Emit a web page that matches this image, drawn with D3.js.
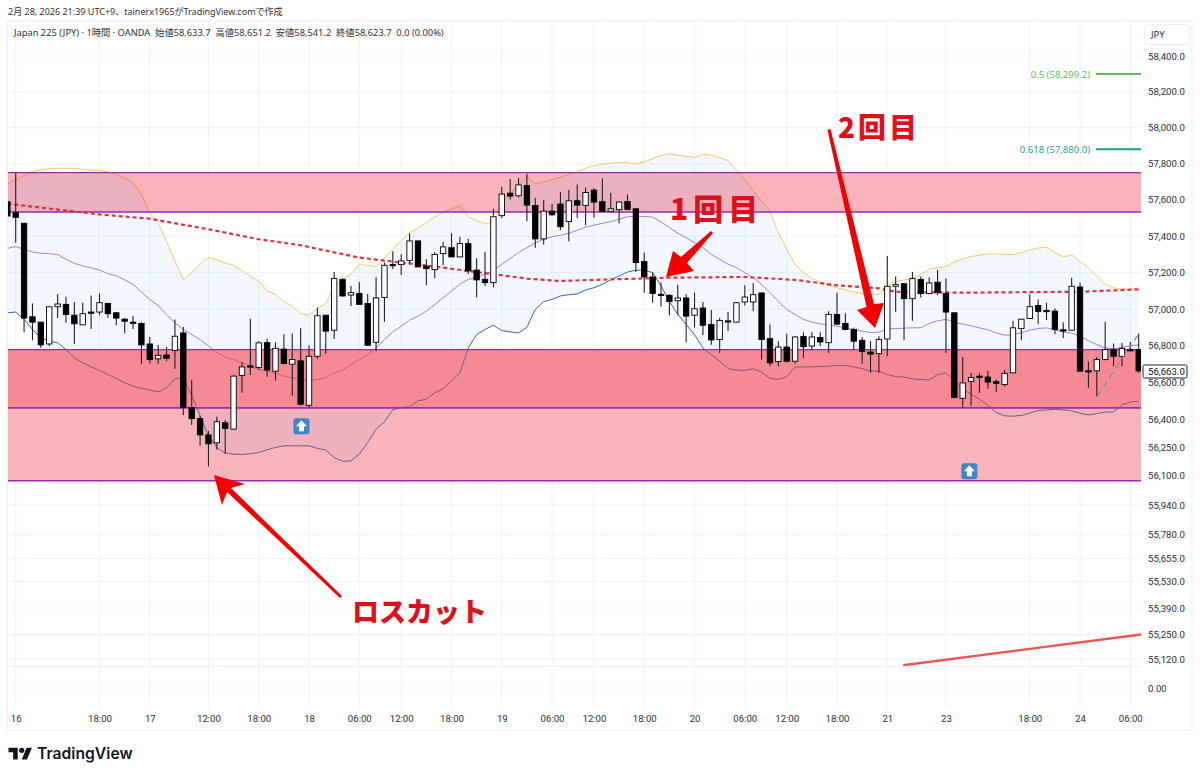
<!DOCTYPE html>
<html><head><meta charset="utf-8">
<script src="https://cdn.jsdelivr.net/npm/d3@7"></script>
<style>html,body{margin:0;padding:0;background:#fff}svg{display:block}text{font-family:"Noto Sans","Noto Sans CJK JP",sans-serif}</style>
</head><body><div id="chart"></div>
<script>
// Values. First element of every candle/band array is the bar before "16" (index -1).
const opens=[57590,57529,57471,56958,56929,56810,57013,57026,56967,56914,56984,56984,57031,56980,56945,56929,56922,56810,56729,56750,56775,56870,56465,56405,56317,56274,56382,56348,56639,56691,56682,56817,56662,56782,56700,56718,56477,56743,56967,56885,57163,57077,57086,57031,56819,57064,57244,57244,57267,57374,57236,57216,57304,57337,57286,57359,57214,57163,57145,57513,57637,57623,57679,57569,57385,57538,57577,57480,57595,57569,57654,57590,57537,57546,57591,57551,57260,57176,57081,57075,57046,57061,56967,57006,56916,56834,56936,56929,57039,57039,57088,56839,56714,56793,56716,56850,56799,56845,56817,56971,56922,56889,56830,56766,56757,56837,57125,57139,57057,57163,57085,57147,57086,56980,56515,56607,56635,56630,56605,56590,56653,56894,56949,57020,56993,56989,56887,56885,57121,56664,56664,56725,56779,56743,56779,56779];
const highs=[57590,57749,57471,57031,56929,57013,57083,57068,57039,57035,57075,57086,57035,56984,56951,56962,56929,56848,56805,56793,56944,56902,56614,56420,56339,56416,56398,56640,56712,56947,56825,56839,56819,56863,56867,56896,56801,57008,56967,57203,57170,57127,57149,57083,57174,57255,57317,57300,57416,57374,57273,57313,57368,57416,57397,57386,57279,57313,57551,57672,57716,57721,57745,57611,57599,57577,57643,57654,57685,57668,57666,57720,57639,57591,57630,57551,57310,57200,57145,57083,57134,57081,57090,57039,56995,56953,56984,57039,57130,57141,57094,56916,56825,56865,56852,56874,56874,56874,56989,57090,56977,56898,56848,56825,56852,57291,57178,57139,57203,57178,57174,57214,57167,56980,56739,56653,56653,56664,56617,56668,56936,56945,57081,57053,57035,57004,56929,57172,57145,56714,56739,56931,56812,56816,56821,56867];
const lows=[57511,57364,56874,56830,56788,56797,56951,56925,56810,56914,56892,56966,56953,56912,56869,56892,56700,56703,56703,56716,56675,56425,56370,56258,56147,56237,56215,56348,56545,56641,56668,56632,56610,56703,56528,56477,56465,56729,56757,56837,57068,57017,57026,56801,56770,56931,57218,57187,57251,57231,57132,57170,57240,57286,57286,57192,57064,57127,57119,57500,57602,57613,57482,57337,57354,57511,57434,57372,57500,57460,57502,57535,57537,57471,57544,57203,57090,57035,57013,56966,56966,56819,56900,56859,56806,56761,56880,56925,57020,56988,56725,56689,56689,56711,56703,56734,56779,56797,56761,56916,56885,56779,56703,56653,56653,56743,56986,56830,56936,57064,57081,57077,56761,56519,56463,56474,56545,56567,56549,56578,56653,56830,56947,56918,56940,56863,56843,56885,56662,56572,56524,56721,56689,56689,56773,56653];
const closes=[57511,57504,56951,56929,56805,57013,57028,56971,56920,56975,56978,57035,56975,56951,56934,56923,56805,56725,56748,56732,56852,56465,56405,56317,56269,56388,56352,56635,56685,56684,56816,56668,56786,56703,56725,56483,56743,56964,56880,57167,57072,57090,57026,56803,57061,57240,57238,57264,57374,57231,57222,57299,57341,57286,57359,57209,57160,57145,57507,57632,57621,57683,57571,57385,57538,57518,57452,57595,57571,57641,57588,57537,57551,57588,57548,57255,57176,57086,57074,57042,57061,56962,57002,56912,56832,56938,56933,57035,57066,57079,56834,56707,56793,56716,56848,56795,56848,56821,56971,56918,56889,56825,56770,56755,56834,57125,57134,57057,57167,57085,57143,57090,56984,56519,56598,56628,56632,56603,56596,56650,56898,56945,57013,56988,56986,56889,56883,57125,56662,56660,56725,56779,56743,56786,56775,56663];
const upperBand=[57688,57712,57735,57755,57767,57772,57774,57775,57774,57770,57766,57762,57755,57740,57720,57694,57630,57529,57474,57370,57265,57160,57200,57245,57284,57270,57252,57240,57212,57180,57154,57100,57081,57040,57017,56975,56967,57005,57030,57127,57160,57191,57244,57240,57233,57280,57328,57375,57419,57445,57475,57505,57533,57550,57566,57507,57485,57471,57474,57584,57635,57685,57730,57688,57700,57712,57725,57740,57755,57776,57790,57797,57803,57808,57806,57800,57810,57828,57846,57854,57848,57840,57835,57852,57848,57832,57818,57767,57711,57648,57593,57538,57420,57330,57246,57200,57167,57150,57130,57117,57105,57094,57085,57081,57081,57130,57150,57160,57167,57190,57218,57228,57233,57258,57275,57288,57296,57302,57302,57300,57299,57310,57324,57335,57341,57310,57286,57297,57260,57227,57180,57136,57116,57110,57108,57117];
const middleBand=[57333,57343,57328,57313,57306,57304,57299,57273,57251,57236,57225,57214,57194,57183,57160,57136,57094,57053,57020,56971,56925,56889,56861,56834,56800,56764,56738,56725,56707,56689,56671,56662,56650,56635,56626,56617,56612,56617,56626,56653,56666,56698,56725,56752,56788,56834,56876,56907,56940,56962,56989,57026,57063,57099,57136,57163,57172,57191,57209,57246,57277,57310,57337,57364,57383,57397,57405,57416,57432,57450,57460,57471,57480,57493,57507,57509,57509,57505,57478,57447,57416,57392,57364,57337,57300,57273,57246,57227,57200,57172,57136,57090,57044,56998,56971,56944,56929,56920,56912,56907,56898,56889,56880,56872,56874,56892,56894,56896,56898,56898,56922,56936,56944,56929,56918,56909,56898,56887,56870,56858,56859,56872,56885,56894,56898,56887,56876,56869,56852,56828,56806,56788,56784,56791,56800,56806];
const lowerBand=[56980,56984,56944,56889,56843,56825,56816,56779,56734,56707,56685,56666,56644,56623,56599,56581,56569,56560,56549,56572,56621,56621,56531,56420,56312,56249,56219,56213,56212,56215,56222,56237,56249,56258,56258,56258,56258,56244,56235,56195,56174,56177,56213,56276,56348,56388,56452,56465,56468,56501,56510,56545,56567,56608,56653,56788,56861,56889,56912,56883,56876,56870,56901,56998,57041,57053,57072,57079,57083,57105,57117,57136,57160,57181,57203,57213,57213,57200,57127,57044,56971,56916,56861,56788,56752,56716,56676,56668,56666,56675,56657,56623,56617,56632,56685,56685,56685,56687,56689,56693,56693,56685,56676,56662,56662,56644,56632,56630,56621,56617,56614,56644,56653,56608,56563,56537,56510,56477,56438,56420,56418,56422,56434,56449,56452,56456,56452,56447,56434,56425,56432,56440,56441,56479,56495,56499];
const maBars=[-1,10,16,23,29,34,41,46,51,57,61,65,69,78,87,93,98,103,105,113,127,134];
const maValues=[57579,57520,57496,57438,57383,57350,57282,57255,57227,57191,57167,57154,57160,57172,57176,57160,57130,57114,57095,57090,57095,57108];
const zoneTop=[57751,57533];
const zoneMid=[56779,56463];
const zoneLow=[56463,56070];
const priceTicks=[58400,58200,58000,57800,57600,57400,57200,57000,56800,56600,56400,56250,56100,55940,55780,55655,55530,55390,55250,55120];
const timeBars=[0,10,16,23,29,35,41,46,52,58,64,69,75,81,87,92,98,104,111,121,127,133];
const timeLabels=["16","18:00","17","12:00","18:00","18","06:00","12:00","18:00","19","06:00","12:00","18:00","20","06:00","12:00","18:00","21","23","18:00","24","06:00"];
const fibLevels=[{label:"0.5 (58,299.2)",price:58299.2,color:"#2e9e3e",text:"#66bb6a",w:1.5},{label:"0.618 (57,880.0)",price:57880,color:"#1f978b",text:"#26a69a",w:2}];
const lastPrice=56663;
const trendBars=[105.9,134.3];
const trendPrices=[55087,55250];
const dashBars=[129.1,134];
const dashPrices=[56530,56865];
const signalBars=[34.1,113.8];
const signalPrices=[56364,56121];
const zeroTicks=[0];

const W=1200,H=777,L=8,R=1141,T=21,PB=666,AB=708,FB=730,AR=1192;
const svg=d3.select("#chart").append("svg").attr("width",W).attr("height",H);
const x=d3.scaleLinear().domain([0,134]).range([15.7,1138.7]);
const y=d3.scaleLog().domain([58400,55120]).range([56,659]);
const yLow=d3.scaleLinear().domain([0,1]).range([688,668]);
const bar=d=>d-1; // array position -> bar number
svg.append("defs").append("clipPath").attr("id","pane").append("rect").attr("x",L).attr("y",T).attr("width",R-L).attr("height",PB-T);

// frame + grid
const gridColor="#f0f2f7";
svg.append("g").selectAll("line").data(priceTicks).join("line").attr("x1",L).attr("x2",R).attr("y1",d=>y(d)).attr("y2",d=>y(d)).attr("stroke",gridColor);
svg.append("line").attr("x1",L).attr("x2",R).attr("y1",yLow(0)).attr("y2",yLow(0)).attr("stroke",gridColor);
svg.append("g").selectAll("line").data(timeBars).join("line").attr("x1",d=>x(d)).attr("x2",d=>x(d)).attr("y1",T).attr("y2",AB).attr("stroke",gridColor);
svg.append("rect").attr("x",7.5).attr("y",T).attr("width",AR-7.5).attr("height",FB-T).attr("fill","none").attr("stroke","#eceef3");
svg.append("line").attr("x1",L).attr("x2",R).attr("y1",PB+.5).attr("y2",PB+.5).attr("stroke","#f0f1f5").attr("stroke-width",1.5);

const pane=svg.append("g").attr("clip-path","url(#pane)");
// supply/demand zones
const zone=(z,c,o)=>pane.append("rect").attr("x",L).attr("width",R-L).attr("y",y(z[0])).attr("height",y(z[1])-y(z[0])).attr("fill",c).attr("fill-opacity",o);
zone(zoneTop,"#f9b4bb",1);zone(zoneLow,"#f9b4bb",1);

// bollinger fill sits under the middle zone
const bars=d3.range(upperBand.length);
pane.append("path").attr("d",d3.area().x(i=>x(bar(i))).y0(i=>y(lowerBand[i])).y1(i=>y(upperBand[i]))(bars)).attr("fill","rgba(33,130,243,0.06)");
zone(zoneMid,"#f58a95",1);
const line=(arr,c)=>pane.append("path").attr("d",d3.line().x(i=>x(bar(i))).y(i=>y(arr[i]))(bars)).attr("fill","none").attr("stroke",c).attr("stroke-width",1).style("mix-blend-mode","multiply");
line(upperBand,"#f5cf6b");line(middleBand,"#b27ce8");line(lowerBand,"#44649f");
// zones veil the band lines that run through them
zone(zoneMid,"#f58a95",.4);zone(zoneLow,"#f9b4bb",.25);

// zone borders
[zoneTop,zoneMid,zoneLow].forEach(z=>z.forEach(p=>pane.append("line").attr("x1",L).attr("x2",R).attr("y1",y(p)).attr("y2",y(p)).attr("stroke","#9c27b0").attr("stroke-width",1.4)));

// MA
pane.append("path").attr("d",d3.line().x((d,i)=>x(maBars[i])).y(d=>y(d))(maValues)).attr("fill","none").attr("stroke","#e2303c").attr("stroke-width",2.2).attr("stroke-dasharray","4 3");

// candles
const cw=5.4;
const c=pane.append("g").selectAll("g").data(bars).join("g");
c.append("line").attr("x1",i=>x(bar(i))).attr("x2",i=>x(bar(i))).attr("y1",i=>y(highs[i])).attr("y2",i=>y(lows[i])).attr("stroke","#222").attr("stroke-width",1.1);
c.append("rect").attr("x",i=>x(bar(i))-cw/2).attr("width",cw)
 .attr("y",i=>y(Math.max(opens[i],closes[i]))).attr("height",i=>Math.max(1.2,y(Math.min(opens[i],closes[i]))-y(Math.max(opens[i],closes[i]))))
 .attr("fill",i=>closes[i]>opens[i]?"#fff":"#000").attr("stroke","#000").attr("stroke-width",.9);

// grey dashed tool + red trend line
pane.append("path").attr("d",d3.line().x((d,i)=>x(dashBars[i])).y(d=>y(d))(dashPrices)).attr("fill","none").attr("stroke","#8a8a8a").attr("stroke-width",1.2).attr("stroke-dasharray","6 5");
pane.append("path").attr("d",d3.line().x((d,i)=>x(trendBars[i])).y(d=>y(d))(trendPrices)).attr("fill","none").attr("stroke","#ef5350").attr("stroke-width",2.4);

// fib
fibLevels.forEach(f=>{
 svg.append("line").attr("x1",1096).attr("x2",R).attr("y1",y(f.price)).attr("y2",y(f.price)).attr("stroke",f.color).attr("stroke-width",f.w);
 svg.append("text").attr("x",1090).attr("y",y(f.price)+3.5).attr("text-anchor","end").attr("font-size",9.5).attr("fill",f.text).text(f.label);
});

// signal icons
signalBars.forEach((b,i)=>{
 const g=svg.append("g").attr("transform",`translate(${x(b)},${y(signalPrices[i])})`);
 g.append("rect").attr("x",-8).attr("y",-8).attr("width",16).attr("height",16).attr("rx",2.5).attr("fill","#3d87c6");
 g.append("path").attr("d","M0,-6 L5.5,0 L2.5,0 L2.5,5 L-2.5,5 L-2.5,0 L-5.5,0 Z").attr("fill","#fff");
});

// axes
const yAxis=svg.append("g").attr("transform",`translate(1148,0)`).call(d3.axisRight(y).tickValues(priceTicks).tickSize(0).tickPadding(0).tickFormat(d3.format(",.1f")));
const yAxis2=svg.append("g").attr("transform",`translate(1148,0)`).call(d3.axisRight(yLow).tickValues(zeroTicks).tickSize(0).tickPadding(0).tickFormat(d3.format(".2f")));
const xAxis=svg.append("g").attr("transform",`translate(0,${AB+7})`).call(d3.axisBottom(x).tickValues(timeBars).tickSize(0).tickPadding(0).tickFormat((d,i)=>timeLabels[i]));
[yAxis,yAxis2,xAxis].forEach(a=>{a.select(".domain").remove();a.selectAll("text").attr("font-size",9.6).attr("fill","#2a2e39").style("font-family",'Roboto,sans-serif');});

// last price tag
svg.append("rect").attr("x",1143).attr("y",y(lastPrice)-6).attr("width",44).attr("height",13).attr("rx",1.5).attr("fill","#fff").attr("stroke","#222");
svg.append("text").attr("x",1148).attr("y",y(lastPrice)+3.6).attr("font-size",9.6).attr("fill","#111").style("font-family",'Roboto,sans-serif').text(d3.format(",.1f")(lastPrice));

// JPY box
svg.append("rect").attr("x",1144.5).attr("y",24.5).attr("width",45).attr("height",20).attr("rx",3).attr("fill","#fff").attr("stroke","#eceef3");
svg.append("text").attr("x",1151).attr("y",38).attr("font-size",9.5).attr("fill","#2a2e39").text("JPY");

// header
svg.append("text").attr("x",8).attr("y",15).attr("font-size",9).attr("fill","#333").text("2月 28, 2026 21:39 UTC+9、tainerx1965がTradingView.comで作成");
svg.append("text").attr("x",14).attr("y",36).attr("font-size",9.3).attr("fill","#333").style("white-space","pre").text("Japan 225 (JPY) · 1時間 · OANDA  始値58,633.7  高値58,651.2  安値58,541.2  終値58,623.7  0.0 (0.00%)");

// annotations
const red="#f40000";
svg.append("path").attr("fill",red).attr("d","M342,596 L231,488 L245,484 L214,475 L222,505 L227,492 L340,598 Z");
svg.append("path").attr("fill",red).attr("d","M711,231 L713,233 L687,263 L694,271 L666,277 L673,251 L681,257 Z");
svg.append("path").attr("fill",red).attr("d","M827.5,130 L830.5,129 L874,304 L884,303 L875,328 L857,310 L866.5,307 Z");
const ann=(t,xp,yp,s,sp)=>svg.append("text").attr("x",xp).attr("y",yp).attr("font-size",s).attr("font-weight",900).attr("letter-spacing",sp).attr("fill","#e0101a").style("font-family",'"Noto Sans CJK JP",sans-serif').text(t);
ann("1回目",670,220,30,5);
ann("2回目",838,138,28,3);
ann("ロスカット",352,622,27,0);

// logo
const lg=svg.append("g").attr("transform","translate(8.5,745) scale(0.66)");
lg.append("path").attr("d","M14 22H7V11H0V4h14v18zM28 22h-8l7.5-18h8L28 22z").attr("fill","#131722");
lg.append("circle").attr("cx",20).attr("cy",8).attr("r",4).attr("fill","#131722");
svg.append("text").attr("x",37).attr("y",759).attr("font-size",15.7).attr("font-weight",600).attr("fill","#131722").style("font-family","Inter,sans-serif").text("TradingView");
</script></body></html>
